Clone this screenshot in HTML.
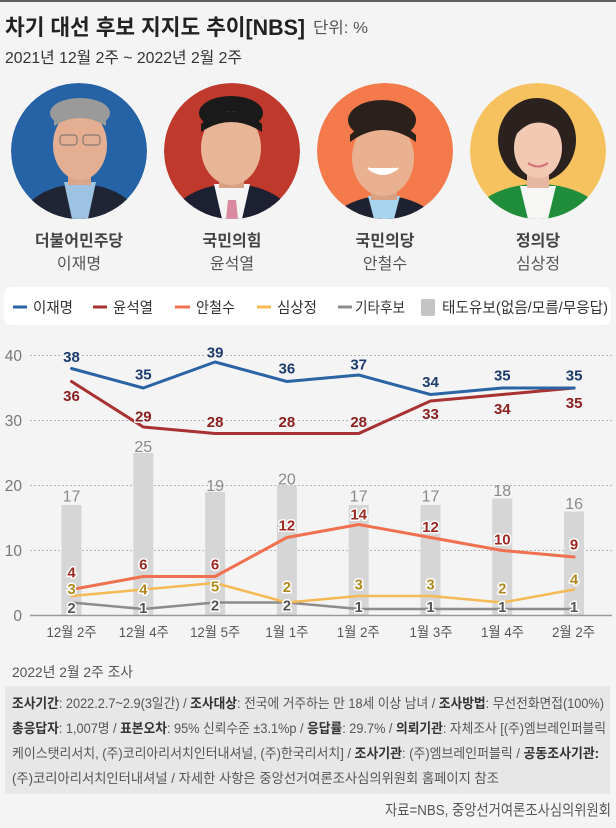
<!DOCTYPE html>
<html><head><meta charset="utf-8">
<style>
html,body{margin:0;padding:0;background:#f4f4f4;}
body{width:616px;height:828px;overflow:hidden;}
svg{display:block;font-family:"Liberation Sans","Noto Sans CJK KR",sans-serif;}
</style></head>
<body>
<svg width="616" height="828" viewBox="0 0 616 828" xmlns="http://www.w3.org/2000/svg">
<defs>
<clipPath id="c1"><circle cx="79" cy="151" r="68"/></clipPath>
<clipPath id="c2"><circle cx="232" cy="151" r="68"/></clipPath>
<clipPath id="c3"><circle cx="385" cy="151" r="68"/></clipPath>
<clipPath id="c4"><circle cx="538" cy="151" r="68"/></clipPath>
</defs>
<rect x="0" y="0" width="616" height="828" fill="#f4f4f4"/>
<rect x="0" y="0" width="616" height="2" fill="#5e5e5e"/>

<!-- Title -->
<text x="5" y="35" font-size="22" font-weight="bold" fill="#222" textLength="300" lengthAdjust="spacingAndGlyphs">차기 대선 후보 지지도 추이[NBS]</text>
<text x="313" y="33" font-size="16" fill="#555" textLength="55" lengthAdjust="spacingAndGlyphs">단위: %</text>
<text x="5" y="63" font-size="16" fill="#333" textLength="237" lengthAdjust="spacingAndGlyphs">2021년 12월 2주 ~ 2022년 2월 2주</text>

<!-- Portraits -->
<g clip-path="url(#c1)">
<circle cx="79" cy="151" r="68" fill="#2563a6"/>
<ellipse cx="80" cy="228" rx="62" ry="44" fill="#1f2535"/>
<polygon points="64,182 96,182 88,219 72,219" fill="#9ec2e2"/>
<rect x="68" y="165" width="23" height="20" fill="#d9a488"/>
<ellipse cx="80" cy="113" rx="30" ry="15" fill="#9a9a9a"/>
<ellipse cx="80" cy="145" rx="27" ry="35" fill="#e3ae92"/>
<path d="M54 120 Q80 96 106 120 L106 126 Q80 110 54 126 Z" fill="#9a9a9a"/>
<rect x="60" y="135" width="17" height="10" rx="3" fill="none" stroke="#8a7a70" stroke-width="1.2"/>
<rect x="83" y="135" width="17" height="10" rx="3" fill="none" stroke="#8a7a70" stroke-width="1.2"/>
</g>
<g clip-path="url(#c2)">
<circle cx="232" cy="151" r="68" fill="#c0392d"/>
<ellipse cx="232" cy="230" rx="66" ry="46" fill="#1c2030"/>
<polygon points="214,184 250,184 242,219 222,219" fill="#f4f4f4"/>
<polygon points="228,200 236,200 238,219 226,219" fill="#d98aa0"/>
<rect x="219" y="168" width="25" height="20" fill="#d9a184"/>
<ellipse cx="231" cy="113" rx="32" ry="17" fill="#1a1a1a"/>
<ellipse cx="231" cy="148" rx="30" ry="37" fill="#e8b596"/>
<path d="M201 124 Q231 98 262 124 L262 132 Q231 112 201 132 Z" fill="#1a1a1a"/>
</g>
<g clip-path="url(#c3)">
<circle cx="385" cy="151" r="68" fill="#f47a4b"/>
<ellipse cx="384" cy="238" rx="60" ry="42" fill="#1e2230"/>
<polygon points="368,196 400,196 394,219 374,219" fill="#a8d4f0"/>
<rect x="371" y="180" width="26" height="20" fill="#d9a184"/>
<ellipse cx="382" cy="120" rx="34" ry="20" fill="#2b211c"/>
<ellipse cx="383" cy="158" rx="31" ry="38" fill="#e9b190"/>
<path d="M350 135 Q383 104 416 135 L416 142 Q383 118 350 142 Z" fill="#2b211c"/>
<path d="M368 168 Q383 180 398 168" fill="#fff" stroke="#fff" stroke-width="2"/>
</g>
<g clip-path="url(#c4)">
<circle cx="538" cy="151" r="68" fill="#f6c25f"/>
<ellipse cx="537" cy="140" rx="39" ry="42" fill="#2b2220"/>
<ellipse cx="538" cy="230" rx="72" ry="46" fill="#1f8d3c"/>
<polygon points="520,186 556,186 548,219 528,219" fill="#f6f6f4"/>
<rect x="527" y="168" width="22" height="20" fill="#e6b8a2"/>
<ellipse cx="538" cy="148" rx="24" ry="30" fill="#f2c9b3"/>
<path d="M512 132 Q520 108 540 108 Q562 110 564 136 Q548 118 530 124 Q520 128 512 140 Z" fill="#2b2220"/>
<path d="M528 163 Q538 170 548 163" fill="none" stroke="#d4707a" stroke-width="2"/>
</g>

<!-- Party / names -->
<g font-size="16" text-anchor="middle">
<text x="79" y="246" font-weight="bold" fill="#444">더불어민주당</text>
<text x="232" y="246" font-weight="bold" fill="#444">국민의힘</text>
<text x="385" y="246" font-weight="bold" fill="#444">국민의당</text>
<text x="538" y="246" font-weight="bold" fill="#444">정의당</text>
<text x="79" y="269" fill="#555">이재명</text>
<text x="232" y="269" fill="#555">윤석열</text>
<text x="385" y="269" fill="#555">안철수</text>
<text x="538" y="269" fill="#555">심상정</text>
</g>

<!-- Legend -->
<rect x="4" y="287" width="607" height="38" rx="7" fill="#ffffff"/>
<g stroke-width="3">
<line x1="13" y1="307" x2="27" y2="307" stroke="#2a64a5"/>
<line x1="93" y1="307" x2="107" y2="307" stroke="#a83232"/>
<line x1="175" y1="307" x2="190" y2="307" stroke="#f07050"/>
<line x1="257" y1="307" x2="271" y2="307" stroke="#f5b955"/>
<line x1="338" y1="307" x2="352" y2="307" stroke="#8c8c8c"/>
</g>
<rect x="421" y="299" width="14" height="17" rx="2" fill="#c4c4c4"/>
<g font-size="15" fill="#333">
<text x="33" y="312.5" textLength="40" lengthAdjust="spacingAndGlyphs">이재명</text>
<text x="113" y="312.5" textLength="40" lengthAdjust="spacingAndGlyphs">윤석열</text>
<text x="196" y="312.5" textLength="39" lengthAdjust="spacingAndGlyphs">안철수</text>
<text x="277" y="312.5" textLength="40" lengthAdjust="spacingAndGlyphs">심상정</text>
<text x="355" y="312.5" textLength="50" lengthAdjust="spacingAndGlyphs">기타후보</text>
<text x="442" y="312.5" textLength="166" lengthAdjust="spacingAndGlyphs">태도유보(없음/모름/무응답)</text>
</g>

<!-- Chart grid -->
<g stroke="#b5b5b5" stroke-width="1" stroke-dasharray="2 2">
<line x1="30" y1="355.5" x2="614" y2="355.5"/>
<line x1="30" y1="420.5" x2="614" y2="420.5"/>
<line x1="30" y1="485.5" x2="614" y2="485.5"/>
<line x1="30" y1="550.5" x2="614" y2="550.5"/>
</g>
<g font-size="15.5" fill="#777" text-anchor="end">
<text x="22" y="361">40</text>
<text x="22" y="426">30</text>
<text x="22" y="491">20</text>
<text x="22" y="556">10</text>
<text x="22" y="621">0</text>
</g>

<!-- Bars -->
<g fill="#d6d6d6">
<rect x="61.5" y="505" width="20" height="110.5"/>
<rect x="133.3" y="453" width="20" height="162.5"/>
<rect x="205.1" y="492" width="20" height="123.5"/>
<rect x="276.9" y="485.5" width="20" height="130"/>
<rect x="348.7" y="505" width="20" height="110.5"/>
<rect x="420.5" y="505" width="20" height="110.5"/>
<rect x="492.3" y="498.5" width="20" height="117"/>
<rect x="564.1" y="511.5" width="20" height="104"/>
</g>
<line x1="30" y1="615.5" x2="612" y2="615.5" stroke="#999" stroke-width="1.5"/>

<!-- Lines -->
<g fill="none" stroke-linejoin="round" stroke-linecap="round">
<polyline stroke="#8c8c8c" stroke-width="2.5" points="71.5,602.5 143.3,609 215.1,602.5 286.9,602.5 358.7,609 430.5,609 502.3,609 574.1,609"/>
<polyline stroke="#f5b955" stroke-width="2.5" points="71.5,596 143.3,589.5 215.1,583 286.9,602.5 358.7,596 430.5,596 502.3,602.5 574.1,589.5"/>
<polyline stroke="#f07050" stroke-width="3" points="71.5,589.5 143.3,576.5 215.1,576.5 286.9,537.5 358.7,524.5 430.5,537.5 502.3,550.5 574.1,557"/>
<polyline stroke="#a83232" stroke-width="3" points="71.5,381.5 143.3,427 215.1,433.5 286.9,433.5 358.7,433.5 430.5,401 502.3,394.5 574.1,388"/>
<polyline stroke="#2a64a5" stroke-width="3" points="71.5,368.5 143.3,388 215.1,362 286.9,381.5 358.7,375 430.5,394.5 502.3,388 574.1,388"/>
</g>

<!-- Bar labels -->
<g font-size="16" fill="#8a8a8a" text-anchor="middle">
<text x="71.5" y="501.5">17</text>
<text x="143.3" y="452">25</text>
<text x="215.1" y="491">19</text>
<text x="286.9" y="484.5">20</text>
<text x="358.7" y="501.5">17</text>
<text x="430.5" y="501.5">17</text>
<text x="502.3" y="496">18</text>
<text x="574.1" y="509">16</text>
</g>

<!-- Value labels -->
<g font-size="15" font-weight="bold" text-anchor="middle" stroke="#ffffff" stroke-width="3" paint-order="stroke" stroke-linejoin="round">
<g fill="#1d3c6e" stroke="#f4f4f4">
<text x="71.5" y="362">38</text>
<text x="143.3" y="379.5">35</text>
<text x="215.1" y="357.5">39</text>
<text x="286.9" y="373.5">36</text>
<text x="358.7" y="369.5">37</text>
<text x="430.5" y="387">34</text>
<text x="502.3" y="380.5">35</text>
<text x="574.1" y="380.5">35</text>
</g>
<g fill="#8a1f1f" stroke="#f4f4f4">
<text x="71.5" y="401">36</text>
<text x="143.3" y="421.5">29</text>
<text x="215.1" y="427">28</text>
<text x="286.9" y="427">28</text>
<text x="358.7" y="427">28</text>
<text x="430.5" y="419">33</text>
<text x="502.3" y="414">34</text>
<text x="574.1" y="408">35</text>
</g>
<g fill="#9c2a22">
<text x="71.5" y="577.5">4</text>
<text x="143.3" y="569.5">6</text>
<text x="215.1" y="569.5">6</text>
<text x="286.9" y="530.5">12</text>
<text x="358.7" y="519.5">14</text>
<text x="430.5" y="532">12</text>
<text x="502.3" y="544.5">10</text>
<text x="574.1" y="549.5">9</text>
</g>
<g fill="#b08a1e">
<text x="71.5" y="594">3</text>
<text x="143.3" y="594.5">4</text>
<text x="215.1" y="591.5">5</text>
<text x="286.9" y="592">2</text>
<text x="358.7" y="589.5">3</text>
<text x="430.5" y="589.5">3</text>
<text x="502.3" y="593.5">2</text>
<text x="574.1" y="584.5">4</text>
</g>
<g fill="#555">
<text x="71.5" y="613">2</text>
<text x="143.3" y="613">1</text>
<text x="215.1" y="610.5">2</text>
<text x="286.9" y="610.5">2</text>
<text x="358.7" y="612">1</text>
<text x="430.5" y="612">1</text>
<text x="502.3" y="612">1</text>
<text x="574.1" y="612">1</text>
</g>
</g>

<!-- X labels -->
<g font-size="14" fill="#555">
<text x="46.5" y="637" textLength="50" lengthAdjust="spacingAndGlyphs">12월 2주</text>
<text x="118.8" y="637" textLength="50" lengthAdjust="spacingAndGlyphs">12월 4주</text>
<text x="190.1" y="637" textLength="50" lengthAdjust="spacingAndGlyphs">12월 5주</text>
<text x="265.4" y="637" textLength="43" lengthAdjust="spacingAndGlyphs">1월 1주</text>
<text x="336.7" y="637" textLength="43" lengthAdjust="spacingAndGlyphs">1월 2주</text>
<text x="409.5" y="637" textLength="43" lengthAdjust="spacingAndGlyphs">1월 3주</text>
<text x="481" y="637" textLength="43" lengthAdjust="spacingAndGlyphs">1월 4주</text>
<text x="552" y="637" textLength="43" lengthAdjust="spacingAndGlyphs">2월 2주</text>
</g>

<!-- Footer -->
<text x="12" y="677" font-size="14" fill="#555" textLength="121" lengthAdjust="spacingAndGlyphs">2022년 2월 2주 조사</text>
<rect x="5" y="686" width="605" height="108" fill="#e7e7e7"/>
<g font-size="13.5" fill="#555">
<text x="12" y="708" textLength="592" lengthAdjust="spacingAndGlyphs"><tspan font-weight="bold" fill="#333">조사기간</tspan>: 2022.2.7~2.9(3일간) / <tspan font-weight="bold" fill="#333">조사대상</tspan>: 전국에 거주하는 만 18세 이상 남녀 / <tspan font-weight="bold" fill="#333">조사방법</tspan>: 무선전화면접(100%)</text>
<text x="12" y="733" textLength="594" lengthAdjust="spacingAndGlyphs"><tspan font-weight="bold" fill="#333">총응답자</tspan>: 1,007명 / <tspan font-weight="bold" fill="#333">표본오차</tspan>: 95% 신뢰수준 ±3.1%p / <tspan font-weight="bold" fill="#333">응답률</tspan>: 29.7% / <tspan font-weight="bold" fill="#333">의뢰기관</tspan>: 자체조사 [(주)엠브레인퍼블릭</text>
<text x="12" y="758" textLength="587" lengthAdjust="spacingAndGlyphs">케이스탯리서치, (주)코리아리서치인터내셔널, (주)한국리서치] / <tspan font-weight="bold" fill="#333">조사기관</tspan>: (주)엠브레인퍼블릭 / <tspan font-weight="bold" fill="#333">공동조사기관:</tspan></text>
<text x="12" y="783" textLength="487" lengthAdjust="spacingAndGlyphs">(주)코리아리서치인터내셔널 / 자세한 사항은 중앙선거여론조사심의위원회 홈페이지 참조</text>
</g>
<text x="385" y="815" font-size="15" fill="#555" textLength="226" lengthAdjust="spacingAndGlyphs">자료=NBS, 중앙선거여론조사심의위원회</text>
</svg>
</body></html>
